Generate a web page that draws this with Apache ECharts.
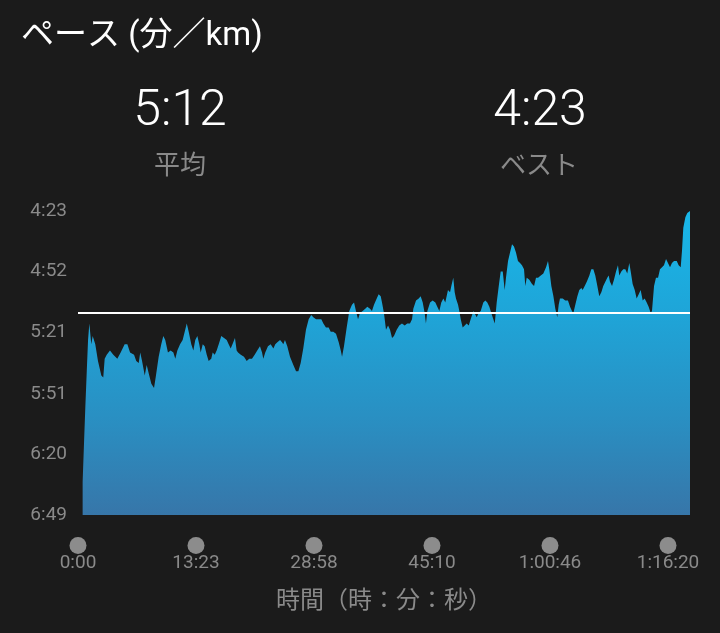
<!DOCTYPE html>
<html>
<head>
<meta charset="utf-8">
<script src="https://cdn.jsdelivr.net/npm/echarts@6/dist/echarts.min.js"></script>
<style>
html,body{margin:0;padding:0;background:#1b1b1b;}
#c{width:720px;height:633px;}
</style>
</head>
<body>
<div id="c"></div>
<script>
// ---- data (pace in seconds per km, elapsed in seconds) ----
const titleText = 'ペース (分／km)';
const avgLabel = '平均';
const bestLabel = 'ベスト';
const axisTitle = '時間（時：分：秒）';
const avgPace = 312;   // 5:12
const bestPace = 263;  // 4:23
const yTickValues = [263, 292, 321, 351, 380, 409];
const xTickLabels = ['0:00', '13:23', '28:58', '45:10', '1:00:46', '1:16:20'];

const elapsedSec = [
  36,47,57,68,78,88,103,114,124,134,
  155,181,196,207,223,248,274,305,331,362,
  383,404,419,435,452,471,483,497,518,533,
  549,569,590,605,626,646,662,677,698,719,
  740,755,771,792,812,828,844,859,879,895,
  910,926,941,952,968,983,999,1014,1034,1045,
  1061,1076,1092,1112,1133,1154,1169,1185,1205,1218,
  1231,1242,1263,1288,1309,1329,1350,1371,1391,1412,
  1428,1438,1453,1474,1495,1516,1531,1547,1568,1583,
  1593,1606,1624,1645,1671,1692,1710,1728,1748,1769,
  1790,1810,1826,1847,1868,1888,1904,1924,1945,1961,
  1981,2002,2023,2039,2049,2064,2085,2105,2126,2142,
  2157,2173,2188,2209,2229,2245,2266,2281,2297,2318,
  2333,2349,2359,2374,2390,2406,2421,2437,2452,2473,
  2493,2514,2535,2555,2576,2592,2602,2623,2644,2659,
  2675,2690,2700,2711,2732,2752,2773,2788,2804,2819,
  2835,2850,2871,2887,2897,2912,2923,2933,2949,2959,
  2970,2985,3001,3016,3032,3047,3068,3083,3094,3109,
  3125,3145,3161,3176,3192,3207,3223,3234,3249,3265,
  3280,3296,3311,3321,3337,3352,3368,3383,3399,3414,
  3430,3445,3461,3471,3482,3502,3523,3539,3554,3570,
  3591,3611,3632,3647,3657,3673,3689,3704,3719,3730,
  3740,3761,3781,3802,3818,3833,3844,3859,3875,3890,
  3906,3916,3932,3948,3968,3983,3999,4014,4030,4045,
  4061,4076,4092,4107,4118,4128,4144,4159,4175,4190,
  4200,4216,4231,4247,4262,4278,4289,4304,4320,4335,
  4351,4366,4382,4397,4413,4428,4444,4454,4470,4485,
  4501,4516,4532,4547,4563,4578,4594,4609,4625,4646,
  4661,4677,4687,4697,4713,4728,4749
];
const paceSec = [
  393,374,357,340,325,317,327,323,323,327,
  335,342,343,334,332,330,332,334,331,327,
  327,331,331,332,335,336,331,335,342,337,
  341,346,348,342,333,327,323,325,331,330,
  331,334,330,327,325,321,317,321,327,330,
  325,323,327,331,327,328,332,335,334,331,
  332,330,327,323,324,325,327,329,326,324,
  330,331,332,333,335,334,334,332,330,328,
  331,334,331,328,327,329,327,326,325,326,
  327,325,328,333,337,340,340,336,329,320,
  315,313,314,315,315,315,317,319,319,321,
  321,322,326,330,333,328,319,311,308,307,
  311,315,312,311,310,309,310,311,308,305,
  303,304,307,312,320,318,320,324,323,320,
  318,317,318,317,317,315,310,306,305,304,
  307,312,317,311,307,306,307,309,311,307,
  305,307,301,302,299,295,302,305,308,311,
  315,319,318,317,318,315,311,311,314,312,
  311,307,306,307,309,312,315,317,307,299,
  292,292,301,295,287,283,279,280,283,287,
  288,289,291,299,295,296,298,299,295,295,
  294,293,290,287,291,299,304,310,314,308,
  305,305,306,306,309,311,312,308,304,301,
  300,301,299,297,294,291,291,294,299,304,
  302,299,297,295,294,297,299,296,292,289,
  294,292,291,291,293,288,292,298,301,305,
  303,301,306,305,307,309,312,311,299,295,
  295,291,290,289,286,288,290,288,287,287,
  289,290,282,271,266,264,263
];

function fmtPace(v) {
  const m = Math.floor(v / 60), s = Math.round(v % 60);
  return m + ':' + (s < 10 ? '0' : '') + s;
}

const seriesData = elapsedSec.map((t, i) => [t, paceSec[i]]);

const chart = echarts.init(document.getElementById('c'), null, {renderer: 'canvas'});
const GRAY = '#8a8a8a';
const LATIN = 'Roboto, "Noto Sans CJK JP", sans-serif';
const CJK = '"Noto Sans CJK JP", Roboto, sans-serif';

chart.setOption({
  backgroundColor: '#1b1b1b',
  animation: false,
  graphic: [
    {type: 'text', x: 21, y: 37, style: {text: titleText, fill: '#ffffff', font: '33px ' + LATIN, textAlign: 'left', textVerticalAlign: 'middle'}},
    {type: 'text', x: 180, y: 112, style: {text: fmtPace(avgPace), fill: '#ffffff', font: '300 50px ' + LATIN, textAlign: 'center', textVerticalAlign: 'middle'}},
    {type: 'text', x: 180, y: 164, style: {text: avgLabel, fill: GRAY, font: '26px ' + CJK, textAlign: 'center', textVerticalAlign: 'middle'}},
    {type: 'text', x: 540, y: 112, style: {text: fmtPace(bestPace), fill: '#ffffff', font: '300 50px ' + LATIN, textAlign: 'center', textVerticalAlign: 'middle'}},
    {type: 'text', x: 539, y: 164, style: {text: bestLabel, fill: GRAY, font: '26px ' + CJK, textAlign: 'center', textVerticalAlign: 'middle'}},
    {type: 'text', x: 384, y: 599, style: {text: axisTitle, fill: GRAY, font: '24px ' + CJK, textAlign: 'center', textVerticalAlign: 'middle'}}
  ],
  grid: [
    {left: 78, right: 30, top: 211, bottom: 118},
    {left: 78, right: 52, top: 211, bottom: 118}
  ],
  xAxis: [
    {gridIndex: 0, type: 'value', min: 0, max: 'dataMax', show: false},
    {
      gridIndex: 1, type: 'category', boundaryGap: false, data: xTickLabels,
      axisLine: {show: false}, axisTick: {show: false}, splitLine: {show: false},
      axisLabel: {
        interval: 0, margin: 22,
        formatter: v => '{d|}\n{t|' + v + '}',
        rich: {
          d: {width: 17, height: 17, borderRadius: 8.5, backgroundColor: '#8c8c8c'},
          t: {fontSize: 19, fontFamily: LATIN, color: GRAY, lineHeight: 19}
        }
      }
    }
  ],
  yAxis: [
    {
      gridIndex: 0, type: 'value', inverse: true, min: yTickValues[0], max: yTickValues[yTickValues.length - 1],
      axisLine: {show: false}, axisTick: {show: false}, splitLine: {show: false},
      axisLabel: {
        customValues: yTickValues, margin: 11, color: GRAY, fontSize: 19, fontFamily: LATIN,
        formatter: v => fmtPace(v)
      }
    },
    {gridIndex: 1, type: 'value', min: 0, max: 1, show: false}
  ],
  series: [
    {
      type: 'line', xAxisIndex: 0, yAxisIndex: 0, data: seriesData,
      symbol: 'none', showSymbol: false, smooth: false,
      lineStyle: {width: 0, opacity: 0},
      areaStyle: {
        origin: 'end', opacity: 1,
        color: new echarts.graphic.LinearGradient(0, 0, 0, 1, [
          {offset: 0, color: '#18b7e9'},
          {offset: 0.35, color: '#1fa4d7'},
          {offset: 0.7, color: '#2a8ec1'},
          {offset: 1, color: '#3776a9'}
        ])
      },
      markLine: {
        silent: true, symbol: ['none', 'none'], label: {show: false},
        lineStyle: {color: '#ffffff', width: 2, type: 'solid', opacity: 1},
        data: [{yAxis: avgPace}]
      },
      z: 2
    }
  ]
});
</script>
</body>
</html>
